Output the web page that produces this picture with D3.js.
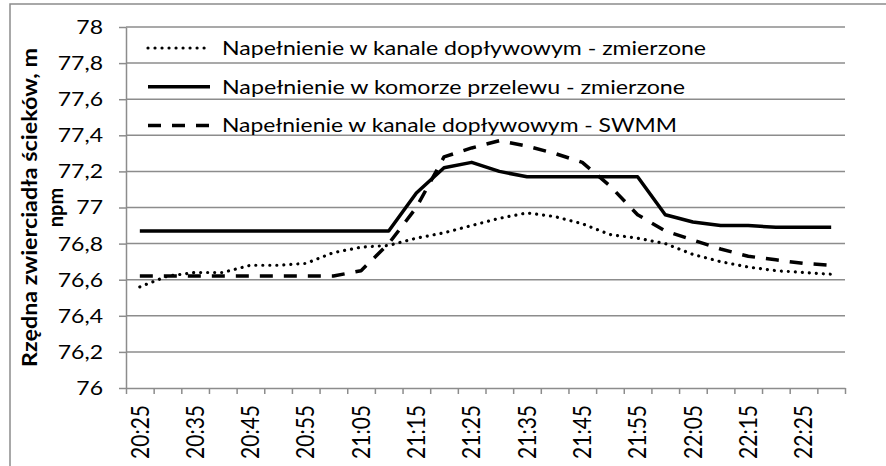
<!DOCTYPE html>
<html>
  <head>
    <meta charset="utf-8">
    <style>
      body { margin: 0; background: #fff; }
      svg { display: block; }
      text { font-family: Lato, "Open Sans", sans-serif; fill: #000; }
      .grid line { stroke: #8c8c8c; stroke-width: 1.5; }
      .axis path, .axis line { stroke: #8c8c8c; stroke-width: 1.5; }
      .series { fill: none; stroke: #000; }
    </style>
  </head>
  <body>
    <!-- Load the d3.js library -->
    <script src="https://d3js.org/d3.v7.min.js"></script>
    <div id="chart"></div>
    <script>
      // Categories (5 minute steps)
      var times = ["20:25", "20:30", "20:35", "20:40", "20:45", "20:50", "20:55",
                   "21:00", "21:05", "21:10", "21:15", "21:20", "21:25", "21:30",
                   "21:35", "21:40", "21:45", "21:50", "21:55", "22:00", "22:05",
                   "22:10", "22:15", "22:20", "22:25", "22:30"];

      // Labelled categories on the x axis
      var timeLabels = ["20:25", "20:35", "20:45", "20:55", "21:05", "21:15",
                        "21:25", "21:35", "21:45", "21:55", "22:05", "22:15", "22:25"];

      // Series values, m npm
      var kanalZmierzone = [76.56, 76.62, 76.64, 76.64, 76.68, 76.68, 76.69, 76.75,
                            76.78, 76.79, 76.83, 76.86, 76.90, 76.94, 76.97, 76.95,
                            76.91, 76.85, 76.83, 76.80, 76.74, 76.70, 76.67, 76.65,
                            76.64, 76.63];
      var komoraZmierzone = [76.87, 76.87, 76.87, 76.87, 76.87, 76.87, 76.87, 76.87,
                             76.87, 76.87, 77.08, 77.22, 77.25, 77.20, 77.17, 77.17,
                             77.17, 77.17, 77.17, 76.96, 76.92, 76.90, 76.90, 76.89,
                             76.89, 76.89];
      var kanalSwmm = [76.62, 76.62, 76.62, 76.62, 76.62, 76.62, 76.62, 76.62,
                       76.65, 76.80, 77.00, 77.28, 77.33, 77.37, 77.34, 77.30,
                       77.25, 77.12, 76.96, 76.87, 76.82, 76.77, 76.73, 76.71,
                       76.69, 76.68];

      var seriesNames = ["Napełnienie w kanale dopływowym - zmierzone",
                         "Napełnienie w komorze przelewu - zmierzone",
                         "Napełnienie w kanale dopływowym - SWMM"];

      var yTicks = [76, 76.2, 76.4, 76.6, 76.8, 77, 77.2, 77.4, 77.6, 77.8, 78];

      var series = [
        {name: seriesNames[0], values: kanalZmierzone, dash: "0.01 7", width: 3.2, cap: "round", legendLen: 484},
        {name: seriesNames[1], values: komoraZmierzone, dash: null, width: 3.5, cap: "butt", legendLen: 463},
        {name: seriesNames[2], values: kanalSwmm, dash: "13 11", width: 3.5, cap: "butt", legendLen: 455}
      ];

      var W = 886, H = 466;
      var plot = {left: 126, right: 845, top: 27, bottom: 388};
      var stretch = 1.15; // reference text is a bit wide

      var svg = d3.select("#chart")
                  .append("svg")
                    .attr("width", W)
                    .attr("height", H);

      // Outer chart border
      svg.append("rect")
          .attr("x", 10)
          .attr("y", 4)
          .attr("width", W)
          .attr("height", H)
          .attr("fill", "none")
          .attr("stroke", "#8c8c8c")
          .attr("stroke-width", 1.5);

      // Scales
      var x = d3.scaleBand()
                .domain(times)
                .range([plot.left, plot.right])
                .padding(0);
      var xEdge = d3.scaleLinear()
                    .domain([0, times.length])
                    .range([plot.left, plot.right]);
      var y = d3.scaleLinear()
                .domain([76, 78])
                .range([plot.bottom, plot.top]);

      var fmt = function(d) { return String(+d.toFixed(1)).replace(".", ","); };

      // Horizontal gridlines
      svg.append("g")
          .attr("class", "grid")
        .selectAll("line")
          .data(yTicks.filter(function(d) { return d > 76; }))
        .enter().append("line")
          .attr("x1", plot.left)
          .attr("x2", plot.right)
          .attr("y1", function(d) { return y(d); })
          .attr("y2", function(d) { return y(d); });

      // y axis
      var yAxis = svg.append("g")
          .attr("class", "axis")
          .attr("transform", "translate(" + plot.left + ",0)")
          .call(d3.axisLeft(y).tickValues(yTicks).tickFormat(fmt).tickSize(7).tickPadding(13).tickSizeOuter(0));
      yAxis.selectAll("text")
          .style("font-size", "20px")
          .attr("transform", "scale(" + stretch + ",1)");

      // x axis: ticks on category edges
      svg.append("g")
          .attr("class", "axis")
          .attr("transform", "translate(0," + plot.bottom + ")")
          .call(d3.axisBottom(xEdge).ticks(times.length).tickFormat("").tickSize(6).tickSizeOuter(0));

      // x axis labels on every other category
      var xLab = svg.append("g")
          .attr("class", "axis")
          .attr("transform", "translate(0," + plot.bottom + ")")
          .call(d3.axisBottom(x).tickValues(timeLabels).tickSize(0));
      xLab.select(".domain").remove();
      xLab.selectAll("text")
          .style("font-size", "21px")
          .attr("x", 0)
          .attr("y", 0)
          .attr("dy", "0.36em")
          .style("text-anchor", "end")
          .attr("transform", "translate(0,17) scale(" + stretch + ",1) rotate(-90)");

      // Lines
      var line = d3.line()
                   .x(function(d, i) { return x(times[i]) + x.bandwidth() / 2; })
                   .y(function(d) { return y(d); });

      svg.selectAll(".series")
          .data(series)
        .enter().append("path")
          .attr("class", "series")
          .attr("d", function(d) { return line(d.values); })
          .attr("stroke-width", function(d) { return d.width; })
          .attr("stroke-dasharray", function(d) { return d.dash; })
          .attr("stroke-linecap", function(d) { return d.cap; })
          .attr("stroke-linejoin", "round");

      // Legend
      var legend = svg.selectAll(".legend")
          .data(series)
        .enter().append("g")
          .attr("class", "legend")
          .attr("transform", function(d, i) { return "translate(148," + (48 + i * 38.7) + ")"; });

      legend.append("line")
          .attr("x1", 0)
          .attr("x2", 62)
          .attr("stroke", "#000")
          .attr("stroke-width", function(d) { return d.width; })
          .attr("stroke-dasharray", function(d) { return d.dash; })
          .attr("stroke-linecap", function(d) { return d.cap; });

      legend.append("text")
          .attr("x", 74)
          .attr("dy", "0.35em")
          .style("font-size", "20px")
          .attr("textLength", function(d) { return d.legendLen; })
          .attr("lengthAdjust", "spacingAndGlyphs")
          .text(function(d) { return d.name; });

      // y axis title (two lines)
      svg.append("text")
          .attr("transform", "translate(37,207.5) rotate(-90)")
          .style("text-anchor", "middle")
          .style("font-size", "20px")
          .style("font-weight", "bold")
          .attr("textLength", 319)
          .attr("lengthAdjust", "spacingAndGlyphs")
          .text("Rzędna zwierciadła ścieków, m");
      svg.append("text")
          .attr("transform", "translate(63,207.5) rotate(-90)")
          .style("text-anchor", "middle")
          .style("font-size", "20px")
          .style("font-weight", "bold")
          .text("npm");
    </script>
  </body>
</html>
